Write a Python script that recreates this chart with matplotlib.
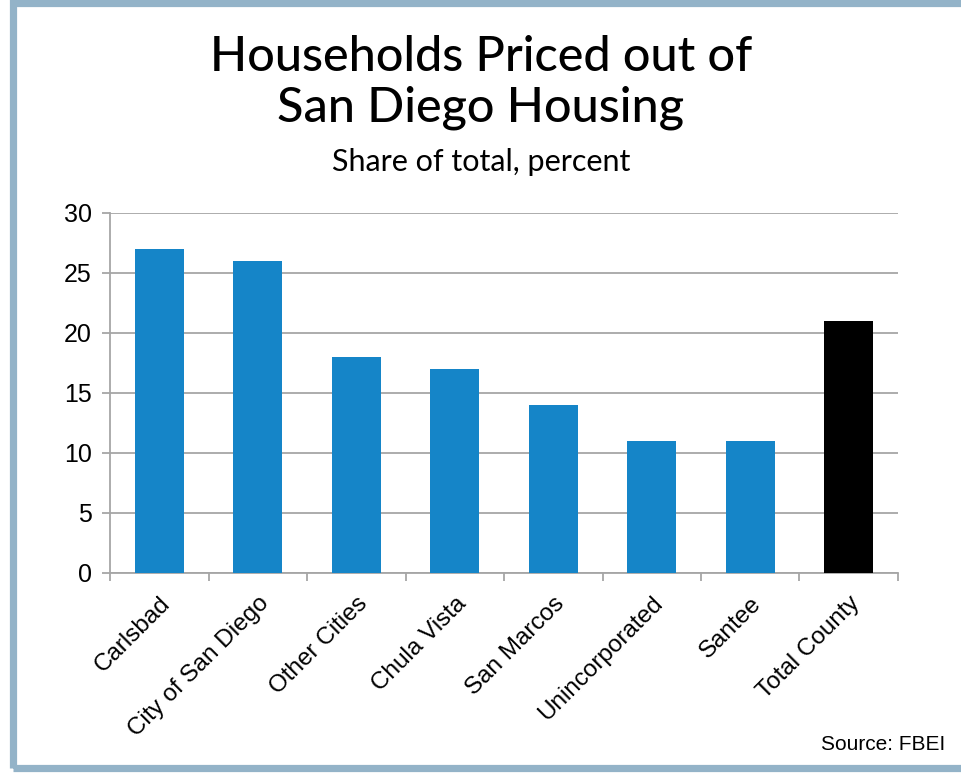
import numpy as np
import matplotlib
matplotlib.use("Agg")
import matplotlib.pyplot as plt
from matplotlib.patches import Rectangle

# Data
categories = ["Carlsbad", "City of San Diego", "Other Cities", "Chula Vista",
              "San Marcos", "Unincorporated", "Santee", "Total County"]
share_pct = [27, 26, 18, 17, 14, 11, 11, 21]
bar_colors = ["#1585c8"] * 7 + ["#000000"]
y_ticks = [0, 5, 10, 15, 20, 25, 30]

W, H = 962, 774
fig = plt.figure(figsize=(W / 100, H / 100), dpi=100)

# Frame around the figure
frame = Rectangle((12.5 / W, 6.5 / H), 1.2, (771 - 6.5) / H, transform=fig.transFigure,
                  fill=False, edgecolor="#93b3c8", linewidth=5.2, clip_on=False)
fig.patches.append(frame)

ax = fig.add_axes([110 / W, 1 - 573 / H, (898 - 110) / W, (573 - 213) / H])

x = np.arange(len(categories))
ax.bar(x, share_pct, width=0.5, color=bar_colors, zorder=3)

ax.set_xlim(-0.5, len(categories) - 0.5)
ax.set_ylim(0, 30)
ax.set_yticks(y_ticks)
ax.yaxis.grid(True, color="#a6a6a6", linewidth=1.3, zorder=0)

for side in ["top", "right"]:
    ax.spines[side].set_visible(False)
for side in ["left", "bottom"]:
    ax.spines[side].set_color("#a6a6a6")
    ax.spines[side].set_linewidth(1.3)

ax.set_xticks(x)
ax.set_xticks(np.arange(len(categories) + 1) - 0.5, minor=True)
ax.tick_params(axis="x", which="major", length=0, pad=14)
ax.tick_params(axis="x", which="minor", length=6, color="#a6a6a6", width=1.3)
ax.tick_params(axis="y", length=6, color="#a6a6a6", width=1.3, pad=7)

ax.set_xticklabels(categories, rotation=45, ha="right", rotation_mode="anchor",
                   fontsize=17.5, family="Liberation Sans")
for lab in ax.get_yticklabels():
    lab.set_fontsize(18)
    lab.set_family("Liberation Sans")

# Titles
fig.text(0.5, 1 - 57 / H, "Households Priced out of", ha="center", va="center",
         fontsize=35, family="Lato", fontweight="medium")
fig.text(0.5, 1 - 108 / H, "San Diego Housing", ha="center", va="center",
         fontsize=35, family="Lato", fontweight="medium")
fig.text(0.5, 1 - 162 / H, "Share of total, percent", ha="center", va="center",
         fontsize=22, family="Lato", fontweight="normal")

fig.text(945 / W, 1 - 745 / H, "Source: FBEI", ha="right", va="center",
         fontsize=15, family="Liberation Sans")

fig.savefig("out.png", dpi=100)
